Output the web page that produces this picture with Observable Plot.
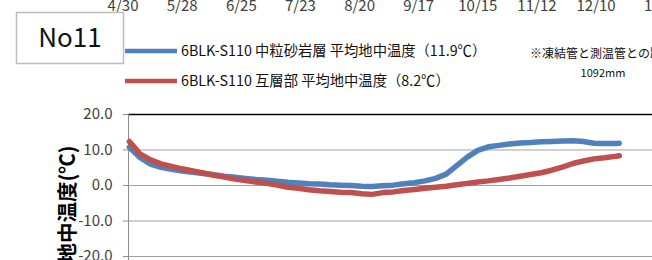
<!DOCTYPE html>
<html><head><meta charset="utf-8">
<script src="https://cdn.jsdelivr.net/npm/d3@7"></script>
<script src="https://cdn.jsdelivr.net/npm/@observablehq/plot@0.6"></script>
<style>
html,body{margin:0;padding:0;overflow:hidden;background:#fff;width:652px;height:260px;}
</style>
</head><body>
<div id="chart"></div>
<script>
const dates = ["2013-05-03","2013-05-08","2013-05-13","2013-05-18","2013-05-23","2013-05-28","2013-06-02","2013-06-07","2013-06-12","2013-06-17","2013-06-22","2013-06-27","2013-07-02","2013-07-07","2013-07-12","2013-07-17","2013-07-22","2013-07-27","2013-08-01","2013-08-06","2013-08-11","2013-08-16","2013-08-21","2013-08-26","2013-08-31","2013-09-05","2013-09-10","2013-09-15","2013-09-20","2013-09-25","2013-09-30","2013-10-05","2013-10-10","2013-10-15","2013-10-20","2013-10-25","2013-10-30","2013-11-04","2013-11-09","2013-11-14","2013-11-19","2013-11-24","2013-11-29","2013-12-04","2013-12-09","2013-12-14","2013-12-19","2013-12-21"];
const sandstone = [10.8,7.9,6.0,5.1,4.6,4.1,3.7,3.4,3.0,2.6,2.3,2.0,1.7,1.5,1.2,0.9,0.7,0.5,0.4,0.2,0.1,0.0,-0.2,-0.3,-0.1,0.1,0.5,0.8,1.3,2.0,3.2,5.6,8.0,9.9,10.9,11.3,11.7,12.0,12.1,12.3,12.4,12.5,12.6,12.4,11.9,11.8,11.8,11.9];
const alternating = [12.4,8.9,7.2,6.1,5.4,4.7,4.1,3.5,2.9,2.4,1.8,1.4,1.0,0.6,0.1,-0.5,-0.8,-1.2,-1.5,-1.7,-1.9,-2.0,-2.3,-2.5,-2.0,-1.8,-1.4,-1.1,-0.8,-0.5,-0.2,0.2,0.6,1.0,1.3,1.7,2.1,2.6,3.1,3.6,4.3,5.2,6.2,6.9,7.5,7.8,8.2,8.4];
const seriesNames = ["6BLK-S110 中粒砂岩層 平均地中温度（11.9℃）","6BLK-S110 互層部 平均地中温度（8.2℃）"];
const seriesColors = ["#4F81BD","#C0504D"];
const xTickDates = ["2013-04-30","2013-05-28","2013-06-25","2013-07-23","2013-08-20","2013-09-17","2013-10-15","2013-11-12","2013-12-10","2014-01-07"];
const yTicks = [-20,-10,0,10,20];
const panelLabel = "No11";
const yLabel = "地中温度(℃)";
const noteLines = ["※凍結管と測温管との距離","1092mm"];

const parse = d3.utcParse("%Y-%m-%d");
const rowsA = dates.map((d,i)=>({date: parse(d), value: sandstone[i]}));
const rowsB = dates.map((d,i)=>({date: parse(d), value: alternating[i]}));
const xDomain = [new Date(Date.UTC(2013,4,2,14)), new Date(Date.UTC(2014,0,5,17))];
const FONT = "'Noto Sans CJK JP', 'Noto Sans', sans-serif";

const svg = Plot.plot({
  width: 652, height: 260,
  marginLeft: 128, marginRight: 0, marginTop: 114, marginBottom: 0,
  style: {fontFamily: FONT, fontSize: "15px", color: "#404040", background: "white", overflow: "visible"},
  x: {type: "utc", domain: xDomain},
  y: {domain: [-21.13, 20]},
  marks: [
    Plot.ruleY(yTicks.filter(d => d !== 20), {stroke: "#a0a0a0", strokeWidth: 1}),
    Plot.ruleY([20], {stroke: "#000", strokeWidth: 1.3}),
    Plot.ruleX([xDomain[0]], {stroke: "#8c8c8c", strokeWidth: 1}),
    Plot.axisY({ticks: yTicks, tickSize: 5, tickPadding: 11, tickFormat: d => d.toFixed(1), stroke: "#8c8c8c", fill: "#404040", fontSize: 15, label: null}),
    Plot.axisX({anchor: "top", ticks: xTickDates.map(parse), tickFormat: d3.utcFormat("%-m/%-d"), tickSize: 0, tickPadding: 104, fill: "#404040", fontSize: 15, label: null}),
    Plot.line(rowsA, {x: "date", y: "value", stroke: seriesColors[0], strokeWidth: 5.5, curve: "linear"}),
    Plot.line(rowsB, {x: "date", y: "value", stroke: seriesColors[1], strokeWidth: 5.5, curve: "linear"}),
    Plot.text([yLabel], {frameAnchor: "top-left", rotate: -90, textAnchor: "end", dx: -68, dy: 31, fontSize: 20.5, fontWeight: "bold", fill: "#000"})
  ]
});
document.getElementById("chart").appendChild(svg);

const s = d3.select(svg);
const g = s.append("g").attr("font-family", FONT).attr("text-anchor", "start");
g.append("rect").attr("x",16.5).attr("y",12.5).attr("width",107).attr("height",51).attr("fill","#fff").attr("stroke","#bdbdbd").attr("stroke-width",1.5);
g.append("text").attr("x",70).attr("y",38).attr("dy","0.35em").attr("text-anchor","middle").attr("font-size",26).attr("fill","#111").text(panelLabel);
[51, 81].forEach((yy,i)=>{
  g.append("line").attr("x1",125).attr("x2",177).attr("y1",yy).attr("y2",yy).attr("stroke",seriesColors[i]).attr("stroke-width",4.5);
  g.append("text").attr("x",181).attr("y",yy).attr("dy","0.35em").attr("text-anchor","start").attr("font-size",14.3).attr("fill","#111").text(seriesNames[i]);
});
g.append("text").attr("x",530).attr("y",54).attr("dy","0.35em").attr("text-anchor","start").attr("font-size",12).attr("fill","#111").text(noteLines[0]);
g.append("text").attr("x",603).attr("y",73).attr("dy","0.35em").attr("text-anchor","middle").attr("font-size",11).attr("fill","#111").text(noteLines[1]);
</script>
</body></html>
